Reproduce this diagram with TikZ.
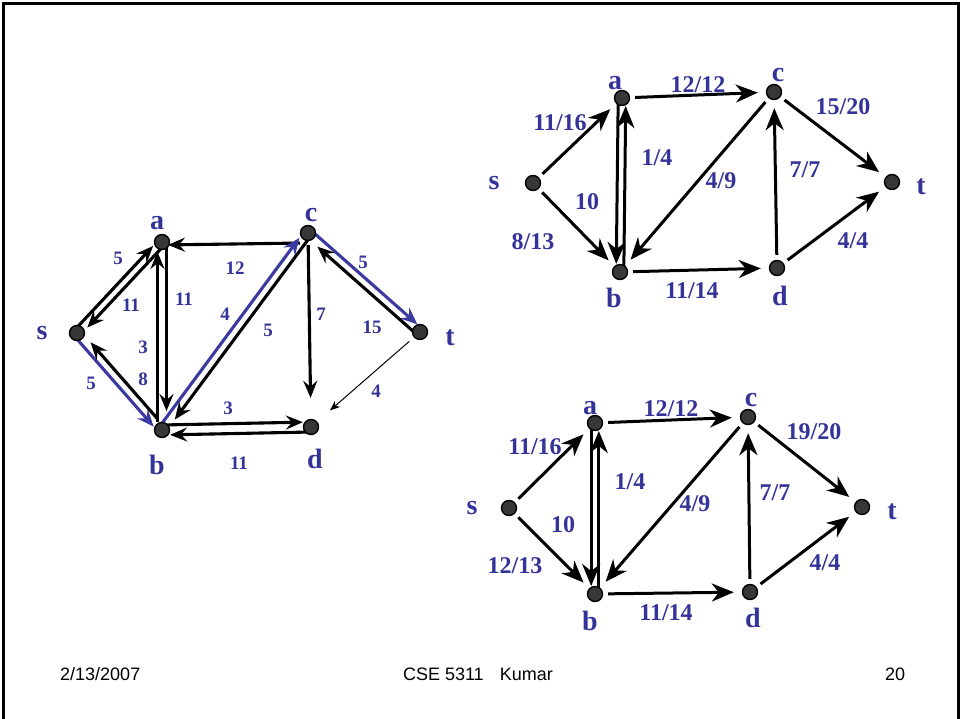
\documentclass[tikz,border=0pt]{standalone}
\usepackage{fontspec}
\setmainfont{Liberation Serif}
\newfontfamily\footfont{Liberation Sans}
\usetikzlibrary{arrows.meta,calc,backgrounds}
\definecolor{lblue}{RGB}{51,51,153}
\definecolor{pblue}{RGB}{58,58,160}
\definecolor{vfill}{RGB}{55,55,55}
\tikzset{
  vtx/.style={circle, draw=black, fill=vfill, line width=1.4pt, minimum size=15pt, inner sep=0pt},
  nl/.style={text=lblue, inner sep=0pt, font=\fontsize{28}{28}\selectfont\bfseries},
  sl/.style={text=lblue, inner sep=0pt, font=\fontsize{19}{19}\selectfont\bfseries},
  rl/.style={text=lblue, inner sep=0pt, font=\fontsize{24}{24}\selectfont\bfseries},
  foot/.style={inner sep=0pt, font=\footfont\fontsize{18}{18}\selectfont},
  larr/.style={draw=black, line width=3.1pt, -{Stealth[length=17pt,width=14pt,inset=6pt]}},
  barr/.style={draw=pblue, line width=3.1pt, -{Stealth[length=17pt,width=14pt,inset=6pt]}},
  tarr/.style={draw=black, line width=1pt, -{Stealth[length=10pt,width=8pt,inset=3pt]}},
  rarr/.style={draw=black, line width=3pt, -{Stealth[length=22pt,width=18pt,inset=7pt]}, shorten >=8pt, shorten <=5pt},
}
\begin{document}
\begin{tikzpicture}[x=1pt,y=-1pt]
\useasboundingbox (0,0) rectangle (961,719);
% frame
\draw[line width=3pt] (3.5,719) -- (3.5,3.5) -- (958.5,3.5) -- (958.5,719);

% ---------------- left graph (residual) ----------------
\node[vtx] (ls) at (77,333) {};
\node[vtx] (la) at (162,242) {};
\node[vtx] (lb) at (162,430) {};
\node[vtx] (lc) at (308,233) {};
\node[vtx] (ld) at (311,427) {};
\node[vtx] (lt) at (420,332) {};
\node[nl] (lsl) at (42,333) {s};
\node[nl] (lal) at (157,223) {a};
\node[nl] (lbl) at (157,465) {b};
\node[nl] (lcl) at (311,215) {c};
\node[nl] (ldl) at (315,459) {d};
\node[nl] (ltl) at (450,338) {t};

\begin{pgfonlayer}{background}
% s <-> a
\draw[larr, shorten >=9pt, shorten <=4pt] ($(ls)!3.8pt!90:(la)$) -- ($(la)!3.8pt!-90:(ls)$);
\draw[larr, shorten >=11pt, shorten <=4pt] ($(la)!3.8pt!90:(ls)$) -- ($(ls)!3.8pt!-90:(la)$);
% a <-> b
\draw[larr, shorten >=10pt, shorten <=8pt] ($(lb)!4.5pt!90:(la)$) -- ($(la)!4.5pt!-90:(lb)$);
\draw[larr, shorten >=19pt, shorten <=4pt] ($(la)!4.5pt!90:(lb)$) -- ($(lb)!4.5pt!-90:(la)$);
% s <-> b
\draw[barr, shorten >=8pt, shorten <=2pt] ($(ls)!-4pt!90:(lb)$) -- ($(lb)!-4pt!-90:(ls)$);
\draw[larr, shorten >=16pt, shorten <=12pt] ($(lb)!-4pt!90:(ls)$) -- ($(ls)!-4pt!-90:(lb)$);
% c -> a
\draw[larr, shorten >=6pt, shorten <=4pt] ($(lc)+(-4,10)$) -- ($(la)+(0,3)$);
% b <-> c
\draw[barr, shorten >=9pt, shorten <=4pt] ($(lb)!4pt!90:(lc)$) -- ($(lc)!4pt!-90:(lb)$);
\draw[larr, shorten >=16pt, shorten <=4pt] ($(lc)!4pt!90:(lb)$) -- ($(lb)!4pt!-90:(lc)$);
% c -> d
\draw[larr, shorten >=21pt, shorten <=4pt] (lc) -- (ld);
% c <-> t
\draw[barr, shorten >=7pt, shorten <=2pt] ($(lc)!4pt!90:(lt)$) -- ($(lt)!4pt!-90:(lc)$);
\draw[larr, shorten >=16pt, shorten <=6pt] ($(lt)!4pt!90:(lc)$) -- ($(lc)!4pt!-90:(lt)$);
% t -> d
\draw[tarr, shorten >=17pt, shorten <=6pt] (lt) -- (ld);
% b <-> d
\draw[larr, shorten >=8pt, shorten <=4pt] ($(lb)!5pt!90:(ld)$) -- ($(ld)!5pt!-90:(lb)$);
\draw[larr, shorten >=8pt, shorten <=4pt] ($(ld)!5pt!90:(lb)$) -- ($(lb)!5pt!-90:(ld)$);
\end{pgfonlayer}

\node[sl] (e1) at (118,258) {5};
\node[sl] (e2) at (131,305) {11};
\node[sl] (e3) at (184,299) {11};
\node[sl] (e4) at (143,347) {3};
\node[sl] (e5) at (143,379) {8};
\node[sl] (e6) at (91,383) {5};
\node[sl] (e7) at (235,268) {12};
\node[sl] (e8) at (225,314) {4};
\node[sl] (e9) at (268,330) {5};
\node[sl] (e10) at (321,314) {7};
\node[sl] (e11) at (363,262) {5};
\node[sl] (e12) at (372,327) {15};
\node[sl] (e13) at (376,391) {4};
\node[sl] (e14) at (228,408) {3};
\node[sl] (e15) at (239,463) {11};

% ---------------- top right graph ----------------
\node[vtx] (rs) at (533,183) {};
\node[vtx] (ra) at (622,98) {};
\node[vtx] (rb) at (620,272) {};
\node[vtx] (rc) at (774,92) {};
\node[vtx] (rd) at (777,268) {};
\node[vtx] (rt) at (892,182) {};
\node[nl] (rsl) at (494,183) {s};
\node[nl] (ral) at (615,83) {a};
\node[nl] (rbl) at (614,298) {b};
\node[nl] (rcl) at (778,75) {c};
\node[nl] (rdl) at (780,296) {d};
\node[nl] (rtl) at (921,187) {t};

\begin{pgfonlayer}{background}
\draw[rarr] (rs) -- (ra);
\draw[rarr] (rs) -- (rb);
\draw[rarr] ($(ra)!-3.8pt!90:(rb)$) -- ($(rb)!-3.8pt!-90:(ra)$);
\draw[rarr] ($(rb)!-3.8pt!90:(ra)$) -- ($(ra)!-3.8pt!-90:(rb)$);
\draw[rarr] (ra) -- (rc);
\draw[rarr] (rc) -- (rb);
\draw[rarr] (rb) -- (rd);
\draw[rarr] (rd) -- (rc);
\draw[rarr] (rc) -- (rt);
\draw[rarr] (rd) -- (rt);
\end{pgfonlayer}

\node[rl] (f1) at (560,123) {11/16};
\node[rl] (f2) at (533,242) {8/13};
\node[rl] (f3) at (587,202) {10};
\node[rl] (f4) at (657,158) {1/4};
\node[rl] (f5) at (698,85) {12/12};
\node[rl] (f6) at (721,181) {4/9};
\node[rl] (f7) at (805,170) {7/7};
\node[rl] (f8) at (843,107) {15/20};
\node[rl] (f9) at (853,241) {4/4};
\node[rl] (f10) at (692,291) {11/14};

% ---------------- bottom right graph ----------------
\node[vtx] (qs) at (509,508) {};
\node[vtx] (qa) at (595,423) {};
\node[vtx] (qb) at (595,594) {};
\node[vtx] (qc) at (748,417) {};
\node[vtx] (qd) at (750,592) {};
\node[vtx] (qt) at (862,507) {};
\node[nl] (qsl) at (472,508) {s};
\node[nl] (qal) at (590,408) {a};
\node[nl] (qbl) at (590,621) {b};
\node[nl] (qcl) at (751,400) {c};
\node[nl] (qdl) at (753,618) {d};
\node[nl] (qtl) at (892,512) {t};

\begin{pgfonlayer}{background}
\draw[rarr] (qs) -- (qa);
\draw[rarr] (qs) -- (qb);
\draw[rarr] ($(qa)!-3.8pt!90:(qb)$) -- ($(qb)!-3.8pt!-90:(qa)$);
\draw[rarr] ($(qb)!-3.8pt!90:(qa)$) -- ($(qa)!-3.8pt!-90:(qb)$);
\draw[rarr] (qa) -- (qc);
\draw[rarr] (qc) -- (qb);
\draw[rarr] (qb) -- (qd);
\draw[rarr] (qd) -- (qc);
\draw[rarr] (qc) -- (qt);
\draw[rarr] (qd) -- (qt);
\end{pgfonlayer}

\node[rl] (g1) at (535,447) {11/16};
\node[rl] (g2) at (515,566) {12/13};
\node[rl] (g3) at (563,525) {10};
\node[rl] (g4) at (630,482) {1/4};
\node[rl] (g5) at (671,409) {12/12};
\node[rl] (g6) at (695,504) {4/9};
\node[rl] (g7) at (775,493) {7/7};
\node[rl] (g8) at (814,432) {19/20};
\node[rl] (g9) at (825,563) {4/4};
\node[rl] (g10) at (666,613) {11/14};

% ---------------- footer ----------------
\node[foot, anchor=west] (date) at (60,674) {2/13/2007};
\node[foot] (course) at (478,674) {CSE 5311\hspace{0.9em}Kumar};
\node[foot] (num) at (895,674) {20};
\end{tikzpicture}
\end{document}
